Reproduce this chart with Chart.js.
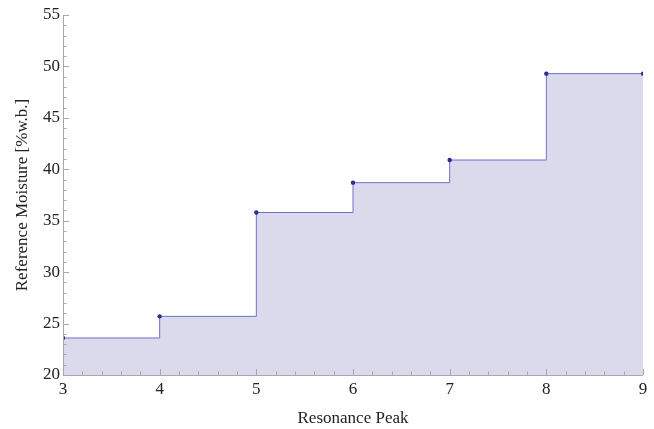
<!DOCTYPE html>
<html>
<head>
<meta charset="utf-8">
<script src="https://cdn.jsdelivr.net/npm/chart.js@4"></script>
<style>
  html, body { margin: 0; padding: 0; background: #fff; }
  #wrap { width: 654px; height: 429px; }
</style>
</head>
<body>
<div id="wrap"><canvas id="c" width="654" height="429"></canvas></div>
<script>
// Resonance peak index and the reference moisture assigned to it
const peaks = [3, 4, 5, 6, 7, 8, 9];
const moisture = [23.6, 25.7, 35.8, 38.7, 40.9, 49.3, 49.3];
const xTicks = [3, 4, 5, 6, 7, 8, 9];
const yTicks = [20, 25, 30, 35, 40, 45, 50, 55];

const axisColor = '#a8a8a8';
const serif = "'Liberation Serif', 'Times New Roman', serif";

// Inward-pointing major and minor tick marks plus the two axis lines
const frameTicks = {
  id: 'frameTicks',
  afterDatasetsDraw(chart) {
    const { ctx, chartArea: a, scales: { x, y } } = chart;
    ctx.save();
    ctx.strokeStyle = axisColor;
    ctx.lineWidth = 1;
    ctx.beginPath();
    ctx.moveTo(a.left + 0.5, a.top);
    ctx.lineTo(a.left + 0.5, a.bottom + 0.5);
    ctx.lineTo(a.right, a.bottom + 0.5);
    ctx.stroke();
    ctx.beginPath();
    for (let i = 0; i <= (x.max - x.min) * 5; i++) {
      const v = x.min + i * 0.2;
      const px = Math.round(x.getPixelForValue(v)) + 0.5;
      const len = i % 5 === 0 ? 6 : 3.5;
      ctx.moveTo(px, a.bottom);
      ctx.lineTo(px, a.bottom - len);
    }
    for (let v = y.min; v <= y.max; v++) {
      const py = Math.round(y.getPixelForValue(v)) + 0.5;
      const len = (v % 5 === 0) ? 6 : 3.5;
      ctx.moveTo(a.left, py);
      ctx.lineTo(a.left + len, py);
    }
    ctx.stroke();
    ctx.restore();
  }
};

new Chart(document.getElementById('c'), {
  type: 'line',
  data: {
    datasets: [{
      data: peaks.map((p, i) => ({ x: p, y: moisture[i] })),
      stepped: true,
      borderColor: 'rgb(112,112,204)',
      borderWidth: 1,
      backgroundColor: 'rgba(218,218,236,1)',
      fill: 'start',
      pointRadius: 2.2,
      pointBackgroundColor: 'rgb(44,44,140)',
      pointBorderWidth: 0,
      pointHoverRadius: 2.2
    }]
  },
  options: {
    responsive: false,
    animation: false,
    layout: { padding: { top: 15, right: 11, left: 0, bottom: 0 } },
    plugins: { legend: { display: false }, tooltip: { enabled: false } },
    scales: {
      x: {
        type: 'linear',
        min: 3, max: 9,
        afterBuildTicks(s) { s.ticks = xTicks.map(v => ({ value: v })); },
        afterFit(s) { s.height = 54; },
        grid: { display: false, drawTicks: false },
        border: { display: false },
        ticks: { color: '#222', font: { family: serif, size: 17 }, padding: 4, maxRotation: 0 },
        title: { display: true, text: 'Resonance Peak', color: '#222', font: { family: serif, size: 17 }, padding: { top: 7, bottom: 0 } }
      },
      y: {
        min: 20, max: 55,
        afterBuildTicks(s) { s.ticks = yTicks.map(v => ({ value: v })); },
        afterFit(s) { s.width = 63; },
        grid: { display: false, drawTicks: false },
        border: { display: false },
        ticks: { color: '#222', font: { family: serif, size: 17 }, padding: 3 },
        title: { display: true, text: 'Reference Moisture [%w.b.]', color: '#222', font: { family: serif, size: 17 }, padding: { top: 12, bottom: 0 } }
      }
    }
  },
  plugins: [frameTicks]
});
</script>
</body>
</html>
